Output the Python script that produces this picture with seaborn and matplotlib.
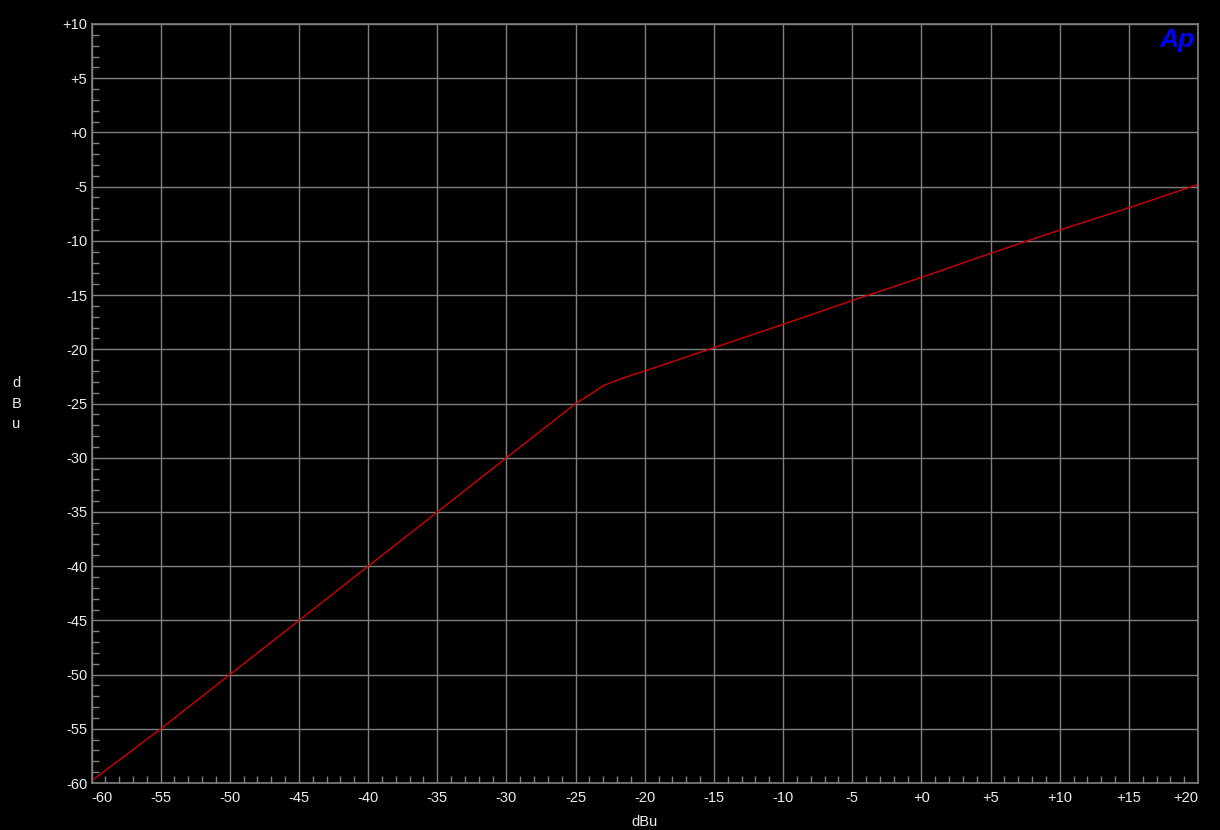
# Compressor transfer curve, AP style (black background)
import seaborn as sns
import matplotlib.pyplot as plt
import pandas as pd
from matplotlib.ticker import MultipleLocator, FixedLocator

sns.set_style("dark")
plt.rcParams['font.family'] = ['Liberation Sans', 'DejaVu Sans']

# input level (dBu) and output level (dBu)
input_dbu = [-60, -55, -50, -45, -40, -35, -30, -25, -24, -23, -22, -21, -20,
             -15, -10, -5, 0, 5, 10, 15, 20]
output_dbu = [-59.8, -55.0, -50.0, -45.0, -40.0, -35.0, -30.0, -25.0, -24.2, -23.35,
              -22.85, -22.4, -22.0, -19.85, -17.7, -15.5, -13.37, -11.15, -9.0, -6.95, -4.8]

x_ticks = list(range(-60, 21, 5))
y_ticks = list(range(-60, 11, 5))
x_labels = [("+%d" % v if v >= 0 else "%d" % v) for v in x_ticks]
y_labels = [("+%d" % v if v >= 0 else "%d" % v) for v in y_ticks]

df = pd.DataFrame({'input': input_dbu, 'output': output_dbu})

fg = '#ececec'
grid_c = '#808080'

fig = plt.figure(figsize=(12.2, 8.3), dpi=100, facecolor='black')
ax = fig.add_axes([0.075, 0.0566, 0.907, 0.9145])
ax.set_facecolor('black')

sns.lineplot(data=df, x='input', y='output', color='#d00000', linewidth=1.0, ax=ax)

ax.set_xlim(-60, 20)
ax.set_ylim(-60, 10)
ax.xaxis.set_major_locator(FixedLocator(x_ticks))
ax.yaxis.set_major_locator(FixedLocator(y_ticks))
ax.xaxis.set_minor_locator(MultipleLocator(1))
ax.yaxis.set_minor_locator(MultipleLocator(1))
ax.set_xticklabels(x_labels)
ax.set_yticklabels(y_labels)

ax.grid(True, which='major', color=grid_c, linewidth=1.0)
ax.grid(False, which='minor')
ax.tick_params(which='major', length=0, colors=fg, labelsize=10.5, pad=3)
ax.tick_params(which='minor', direction='in', length=5, width=1.0, color=grid_c)
ax.tick_params(axis='y', which='both', left=True, right=False)
ax.tick_params(axis='x', which='both', bottom=True, top=False)
ax.tick_params(axis='x', which='major', pad=6)

for s in ax.spines.values():
    s.set_color(grid_c)
    s.set_linewidth(1.2)

xl = ax.get_xticklabels()
xl[0].set_ha('left')
xl[-1].set_ha('right')

ax.set_xlabel('dBu', color=fg, fontsize=10.5)
ax.set_ylabel('d\nB\nu', color=fg, fontsize=10.5, rotation=0, linespacing=1.6)
ax.yaxis.set_label_coords(-0.068, 0.5)
ax.yaxis.label.set_va('center')
ax.xaxis.set_label_coords(0.5, -0.042)
ax.xaxis.label.set_va('top')

ax.text(0.997, 0.995, 'Ap', transform=ax.transAxes, ha='right', va='top',
        color='#0000ff', fontsize=19, fontweight='bold', fontstyle='italic')

plt.savefig('out.png', dpi=100, facecolor='black')
